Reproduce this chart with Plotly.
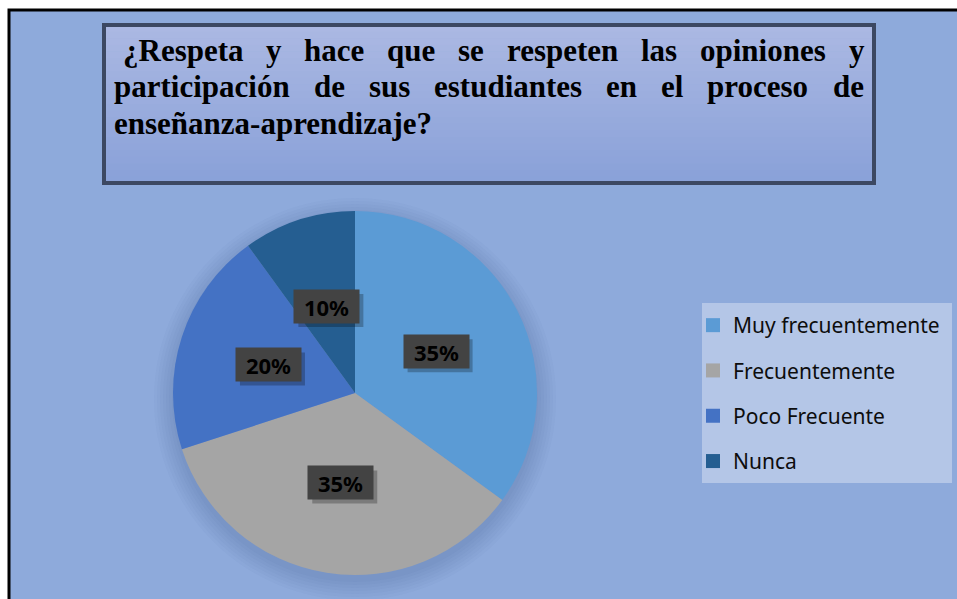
import math
import plotly.graph_objects as go

# data
categories = ["Muy frecuentemente", "Frecuentemente", "Poco Frecuente", "Nunca"]
percentages = [35, 35, 20, 10]
slice_colors = ["#5b9bd5", "#a5a5a5", "#4472c4", "#255e91"]

title_lines = [" ¿Respeta y hace que se respeten las opiniones y",
               "participación de sus estudiantes en el proceso de",
               "enseñanza-aprendizaje?"]

W, H = 957, 599
BG = "#8eaadb"


def px(x, y):
    # pixel position -> paper coords (no margins)
    return x / W, 1 - y / H


# pie geometry (pixels)
cx, cy, R = 355, 393, 182
dx0, dy1 = px(cx - R, cy - R)
dx1, dy0 = px(cx + R, cy + R)

fig = go.Figure()

fig.add_trace(go.Pie(labels=categories, values=percentages, sort=False,
                     direction="clockwise", rotation=0,
                     marker=dict(colors=slice_colors, line=dict(width=0)),
                     textinfo="none", hoverinfo="label+percent",
                     showlegend=False,
                     domain=dict(x=[dx0, dx1], y=[dy0, dy1])))

# legend entries (square swatches)
for name, col in zip(categories, slice_colors):
    fig.add_trace(go.Scatter(x=[None], y=[None], mode="markers", name=name,
                             legendgroup=name,
                             marker=dict(symbol="square", size=14, color=col)))

shapes = []
# outer frame
shapes.append(dict(type="rect", xref="paper", yref="paper", layer="below",
                   x0=9 / W, x1=1.1, y0=-0.1, y1=1 - 10 / H,
                   fillcolor=BG, line=dict(color="black", width=3)))

# soft shadow around the pie
for k in range(7):
    r = R + 1 + k * 3
    a0, b1 = px(cx - r, cy + 6 - r)
    a1, b0 = px(cx + r, cy + 6 + r)
    shapes.append(dict(type="circle", xref="paper", yref="paper", layer="below",
                       x0=a0, x1=a1, y0=b0, y1=b1,
                       fillcolor="rgba(60,80,130,0.035)", line=dict(width=0)))

# title box with vertical gradient
tx0, tx1, ty0, ty1 = 104, 874, 25, 183
top_c = (171, 184, 227)
bot_c = (138, 162, 217)
n = 24
for i in range(n):
    t = i / (n - 1)
    c = tuple(int(top_c[j] + (bot_c[j] - top_c[j]) * t) for j in range(3))
    ya = ty0 + (ty1 - ty0) * i / n
    yb = ty0 + (ty1 - ty0) * (i + 1) / n
    shapes.append(dict(type="rect", xref="paper", yref="paper", layer="below",
                       x0=tx0 / W, x1=tx1 / W, y0=1 - (yb + 0.5) / H, y1=1 - ya / H,
                       fillcolor="rgb(%d,%d,%d)" % c, line=dict(width=0)))
shapes.append(dict(type="rect", xref="paper", yref="paper", layer="below",
                   x0=tx0 / W, x1=tx1 / W, y0=1 - ty1 / H, y1=1 - ty0 / H,
                   line=dict(color="#3c4862", width=4)))

# legend panel
shapes.append(dict(type="rect", xref="paper", yref="paper", layer="below",
                   x0=702 / W, x1=952 / W, y0=1 - 483 / H, y1=1 - 303 / H,
                   fillcolor="#b4c6e7", line=dict(width=0)))

annotations = []

# justified title text, Times New Roman Bold advance widths (per 1000 em)
tnr_bold = {"a": 500, "b": 556, "c": 444, "d": 556, "e": 444, "f": 333, "g": 500,
            "h": 556, "i": 278, "j": 333, "k": 556, "l": 278, "m": 833, "n": 556,
            "o": 500, "p": 556, "q": 556, "r": 444, "s": 389, "t": 333, "u": 556,
            "v": 500, "w": 722, "x": 500, "y": 500, "z": 444, " ": 250, "R": 722,
            "¿": 500, "?": 500, "-": 333, "ó": 500, "ñ": 556}
fs = 31


def text_w(s):
    return sum(tnr_bold.get(ch, 500) for ch in s) * fs / 1000.0


line_y = [51, 87, 123]
left_x = [121, 112, 112]
right_x = 862
for li, line in enumerate(title_lines):
    words = line.split()
    yy = 1 - line_y[li] / H
    if li < 2:
        total = sum(text_w(w) for w in words)
        gap = (right_x - left_x[li] - total) / (len(words) - 1)
        x = left_x[li]
        for w in words:
            annotations.append(dict(text="<b>%s</b>" % w, x=x / W, y=yy,
                                    xref="paper", yref="paper", xanchor="left",
                                    yanchor="middle", showarrow=False,
                                    font=dict(family="Liberation Serif", size=fs, color="black")))
            x += text_w(w) + gap
    else:
        annotations.append(dict(text="<b>%s</b>" % line, x=left_x[li] / W, y=yy,
                                xref="paper", yref="paper", xanchor="left",
                                yanchor="middle", showarrow=False,
                                font=dict(family="Liberation Serif", size=fs, color="black")))

# data labels at half radius along each slice midpoint
bw, bh = 65, 33
total = float(sum(percentages))
cum = 0
for v in percentages:
    mid = (cum + v / 2.0) / total * 2 * math.pi
    cum += v
    lx = cx + 0.5 * R * math.sin(mid)
    ly = cy - 0.5 * R * math.cos(mid)
    # drop shadow behind the label box
    s0x, s1y = px(lx - bw / 2 + 4, ly - bh / 2 + 4)
    s1x, s0y = px(lx + bw / 2 + 4, ly + bh / 2 + 4)
    shapes.append(dict(type="rect", xref="paper", yref="paper", layer="above",
                       x0=s0x, x1=s1x, y0=s0y, y1=s1y,
                       fillcolor="rgba(0,0,0,0.25)", line=dict(width=0)))
    ax, ay = px(lx, ly)
    annotations.append(dict(text="<b>%d%%</b>" % v, x=ax, y=ay, xref="paper", yref="paper",
                            xanchor="center", yanchor="middle",
                            showarrow=False, width=63, height=31,
                            bgcolor="#434343",
                            font=dict(family="Noto Sans", size=22, color="black")))

fig.update_layout(
    width=W, height=H,
    margin=dict(l=0, r=0, t=0, b=0),
    paper_bgcolor="white",
    plot_bgcolor="rgba(0,0,0,0)",
    xaxis=dict(visible=False),
    yaxis=dict(visible=False),
    shapes=shapes,
    annotations=annotations,
    showlegend=True,
    legend=dict(x=693 / W, y=1 - 305 / H, xanchor="left", yanchor="top",
                bgcolor="rgba(0,0,0,0)", tracegroupgap=15, traceorder="grouped",
                font=dict(family="Noto Sans", size=21, color="#0d0d0d")),
)

fig.write_html("out.html", config={"displayModeBar": False},
               post_script="document.body.style.margin='0';")
